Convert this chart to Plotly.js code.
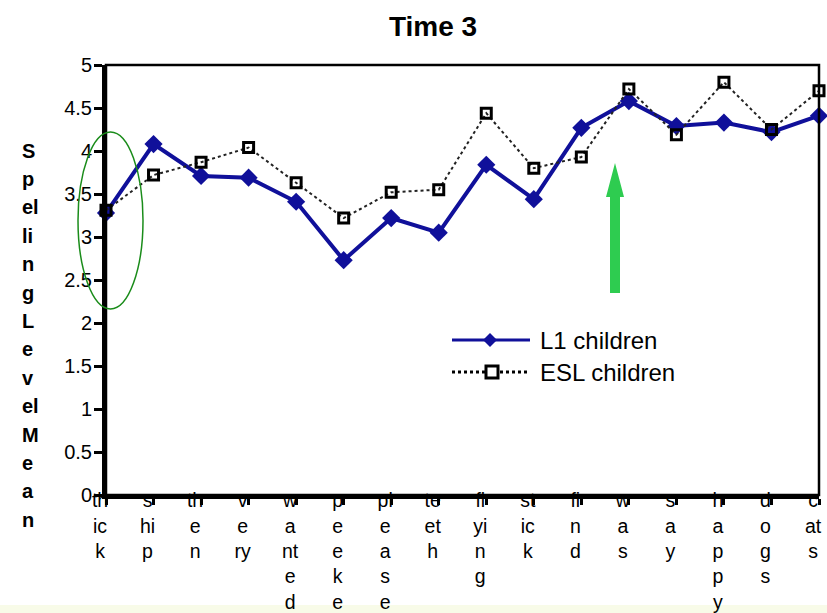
<!DOCTYPE html>
<html>
<head>
<meta charset="utf-8">
<script src="https://cdn.plot.ly/plotly-3.0.1.min.js"></script>
<style>html,body{margin:0;padding:0;background:#fff;}#chart{width:827px;height:613px;}</style>
</head>
<body>
<div id="chart"></div>
<script>
const categories = ['thick','ship','then','very','wanted','peeke','please','teeth','flying','stick','find','was','say','happy','dogs','cats'];
const tickLabels = ['th<br>ic<br>k','s<br>hi<br>p','th<br>e<br>n','v<br>e<br>ry','w<br>a<br>nt<br>e<br>d','p<br>e<br>e<br>k<br>e','pl<br>e<br>a<br>s<br>e','te<br>et<br>h','fl<br>yi<br>n<br>g','st<br>ic<br>k','fi<br>n<br>d','w<br>a<br>s','s<br>a<br>y','h<br>a<br>p<br>p<br>y','d<br>o<br>g<br>s','c<br>at<br>s'];
const l1Values  = [3.28,4.08,3.71,3.69,3.41,2.73,3.22,3.05,3.84,3.44,4.27,4.58,4.29,4.33,4.22,4.41];
const eslValues = [3.31,3.72,3.87,4.04,3.63,3.22,3.52,3.55,4.44,3.80,3.93,4.72,4.19,4.80,4.25,4.70];
const seriesNames = ['L1 children','ESL children'];
const yTitleLines = ['S','p','el','li','n','g','L','e','v','el','M','e','a','n'];
const chartTitle = 'Time 3';

const FONT = 'Liberation Sans, Arial, sans-serif';
const NAVY = '#10109a';

// plot area geometry (px)
const W = 827, H = 613, L = 106, R = 8, T = 65, B = 118;
const pw = W - L - R, ph = H - T - B;
const px = x => (x - L) / pw;
const py = y => (H - B - y) / ph;

const traces = [
  {x: categories, y: l1Values, name: seriesNames[0], type: 'scatter', mode: 'lines+markers',
   line: {color: NAVY, width: 4}, marker: {symbol: 'diamond', size: 14, color: NAVY},
   cliponaxis: false, showlegend: false},
  {x: categories, y: eslValues, name: seriesNames[1], type: 'scatter', mode: 'lines+markers',
   line: {color: '#222', width: 2, dash: 'dot'},
   marker: {symbol: 'square-open', size: 10, color: '#000', line: {width: 3, color: '#000'}},
   cliponaxis: false, showlegend: false}
];

const shapes = [
  // light band at bottom
  {type: 'rect', xref: 'paper', yref: 'paper', x0: px(0), x1: px(W), y0: py(H), y1: py(605),
   fillcolor: '#f8fbe8', line: {width: 0}, layer: 'below'},
  // frame
  {type: 'rect', xref: 'paper', yref: 'paper', x0: 0, x1: 1, y0: 0, y1: 1, line: {color: '#000', width: 2.5}},
  // green ellipse
  {type: 'circle', xref: 'paper', yref: 'paper', x0: px(78), x1: px(143), y0: py(309), y1: py(132),
   line: {color: '#1a8c1a', width: 1.5}},
  // green arrow
  {type: 'path', xref: 'paper', yref: 'paper',
   path: `M${px(610)},${py(293)} L${px(620)},${py(293)} L${px(620)},${py(197)} L${px(624)},${py(197)} L${px(615)},${py(163)} L${px(606)},${py(197)} L${px(610)},${py(197)} Z`,
   fillcolor: '#2ecc50', line: {width: 0}},
  // legend samples
  {type: 'line', xref: 'paper', yref: 'paper', x0: px(452), x1: px(530), y0: py(340), y1: py(340),
   line: {color: NAVY, width: 3}},
  {type: 'path', xref: 'paper', yref: 'paper',
   path: `M${px(490)},${py(333)} L${px(497)},${py(340)} L${px(490)},${py(347)} L${px(483)},${py(340)} Z`,
   fillcolor: NAVY, line: {width: 0}},
  {type: 'line', xref: 'paper', yref: 'paper', x0: px(452), x1: px(530), y0: py(372), y1: py(372),
   line: {color: '#000', width: 3, dash: 'dot'}},
  {type: 'rect', xref: 'paper', yref: 'paper', x0: px(486), x1: px(498), y0: py(378), y1: py(366),
   fillcolor: '#fff', line: {color: '#000', width: 3}}
];

const annotations = [
  {xref: 'paper', yref: 'paper', x: px(538), y: py(340), xanchor: 'left', yanchor: 'middle',
   text: seriesNames[0], showarrow: false, font: {family: FONT, size: 24, color: '#000'}},
  {xref: 'paper', yref: 'paper', x: px(538), y: py(372), xanchor: 'left', yanchor: 'middle',
   text: seriesNames[1], showarrow: false, font: {family: FONT, size: 24, color: '#000'}}
];
yTitleLines.forEach((s, i) => {
  annotations.push({xref: 'paper', yref: 'paper', x: px(20), y: py(150.5 + i * 28.4),
    xanchor: 'left', yanchor: 'middle', text: '<b>' + s + '</b>', showarrow: false,
    font: {family: FONT, size: 20, color: '#000'}});
});

const layout = {
  width: W, height: H,
  margin: {l: L, r: R, t: T, b: B, pad: 0},
  paper_bgcolor: '#fff', plot_bgcolor: '#fff',
  showlegend: false,
  title: {text: '<b>' + chartTitle + '</b>', x: 433 / W, xanchor: 'center', xref: 'container',
          y: 1 - 26 / H, yanchor: 'middle', yref: 'container',
          font: {family: FONT, size: 28, color: '#000'}},
  xaxis: {type: 'category', range: [0, categories.length - 1], tickmode: 'array',
          tickvals: categories, ticktext: tickLabels,
          ticks: 'outside', ticklen: 6, tickwidth: 3, tickcolor: '#000',
          showline: true, linewidth: 4, linecolor: '#000', showgrid: false, zeroline: false,
          tickfont: {family: FONT, size: 19.5, color: '#000'}, ticklabelshift: -6, ticklabelstandoff: -21},
  yaxis: {range: [0, 5], dtick: 0.5, ticks: 'outside', ticklen: 8, tickwidth: 3, tickcolor: '#000',
          showline: true, linewidth: 4, linecolor: '#000', showgrid: false, zeroline: false,
          tickfont: {family: FONT, size: 20, color: '#000'}, ticklabelstandoff: -2},
  xaxis2: {overlaying: 'x', anchor: 'y', range: [0, categories.length - 1], tickmode: 'linear', tick0: 0, dtick: 1,
           ticks: 'inside', ticklen: 6, tickwidth: 3, tickcolor: '#000', showticklabels: false,
           showline: false, showgrid: false, zeroline: false},
  yaxis2: {overlaying: 'y', anchor: 'x', side: 'left', range: [0, 5], dtick: 0.5,
           ticks: 'inside', ticklen: 5, tickwidth: 3, tickcolor: '#000', showticklabels: false,
           showline: false, showgrid: false, zeroline: false},
  shapes: shapes,
  annotations: annotations
};

Plotly.newPlot('chart', traces, layout, {displayModeBar: false, staticPlot: true});
</script>
</body>
</html>
